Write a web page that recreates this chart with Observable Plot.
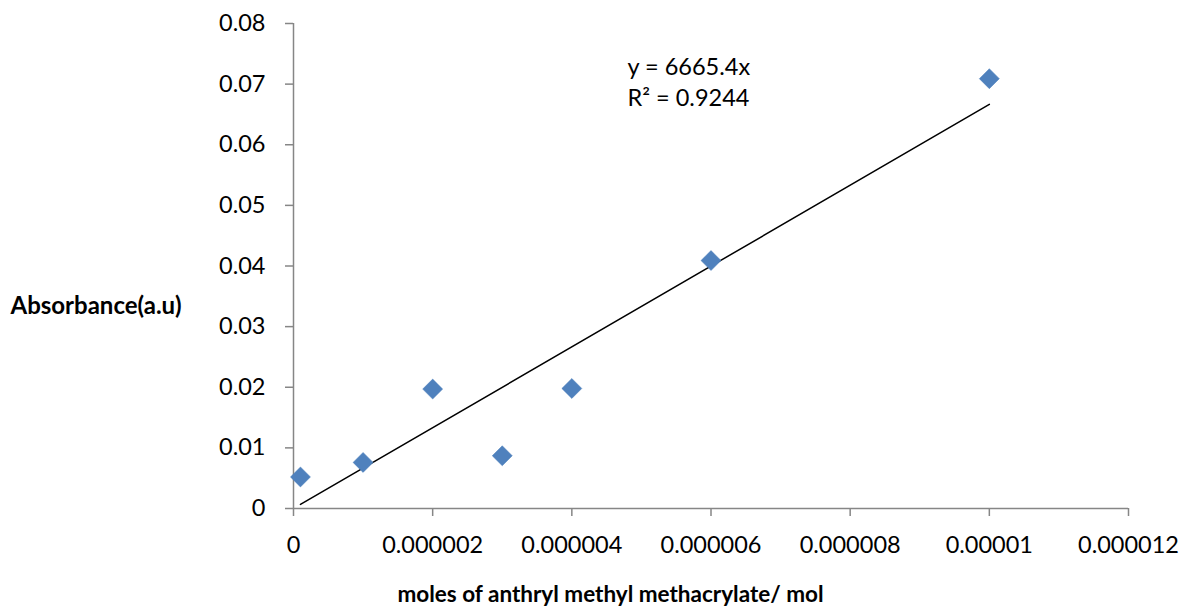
<!DOCTYPE html>
<html><head><meta charset="utf-8">
<script src="https://cdn.jsdelivr.net/npm/d3@7"></script>
<script src="https://cdn.jsdelivr.net/npm/@observablehq/plot@0.6"></script>
<style>body{margin:0;background:#fff}</style>
</head><body><div id="chart"></div>
<script>
const moles = [1e-7, 1e-6, 2e-6, 3e-6, 4e-6, 6e-6, 1e-5];
const absorbance = [0.0052, 0.0076, 0.0197, 0.0087, 0.0198, 0.0409, 0.0709];
const slope = 6665.4;
const xTicks = [0, 0.000002, 0.000004, 0.000006, 0.000008, 0.00001, 0.000012];
const xTickLabels = ["0", "0.000002", "0.000004", "0.000006", "0.000008", "0.00001", "0.000012"];
const yTicks = [0, 0.01, 0.02, 0.03, 0.04, 0.05, 0.06, 0.07, 0.08];
const yTickLabels = ["0", "0.01", "0.02", "0.03", "0.04", "0.05", "0.06", "0.07", "0.08"];
const equation = ["y = 6665.4x", "R² = 0.9244"];
const xLabel = "moles of anthryl methyl methacrylate/ mol";
const yLabel = "Absorbance(a.u)";

const points = moles.map((m, i) => ({x: m, y: absorbance[i]}));
const trend = [moles[0], moles[moles.length - 1]].map(x => ({x, y: slope * x}));
const font = "Lato, 'Open Sans', sans-serif";
const axisColor = "#868686";

const chart = Plot.plot({
  width: 1181, height: 615,
  marginLeft: 293, marginRight: 53, marginTop: 23, marginBottom: 107,
  style: {fontFamily: font, background: "#fff"},
  x: {domain: [0, 0.000012]},
  y: {domain: [0, 0.08]},
  marks: [
    Plot.ruleY([0], {stroke: axisColor, strokeWidth: 1.5}),
    Plot.ruleX([0], {stroke: axisColor, strokeWidth: 1.5}),
    Plot.axisX({ticks: xTicks, tickFormat: (d, i) => xTickLabels[i], tickSize: 8, tickPadding: 20,
      stroke: axisColor, strokeWidth: 1.5, color: "#000", fontSize: 23.5, label: null}),
    Plot.axisY({ticks: yTicks, tickFormat: (d, i) => yTickLabels[i], tickSize: 8, tickPadding: 20,
      stroke: axisColor, strokeWidth: 1.5, color: "#000", fontSize: 23.5, label: null}),
    Plot.line(trend, {x: "x", y: "y", stroke: "#000", strokeWidth: 1.5}),
    Plot.dot(points, {x: "x", y: "y", symbol: "diamond2", r: 9, fill: "#4F81BD", stroke: "#4A7EBB", strokeWidth: 0.5}),
    Plot.text([equation[0]], {x: 4.8e-6, y: 0.0728, text: d => d, textAnchor: "start", fontSize: 23.5, fill: "#000"}),
    Plot.text([equation[1]], {x: 4.8e-6, y: 0.0677, text: d => d, textAnchor: "start", fontSize: 23.5, fill: "#000"}),
    Plot.text([xLabel], {frameAnchor: "bottom-left", text: d => d, dx: 317, dy: 93, textAnchor: "middle", fontSize: 22.5, fontWeight: "bold", fill: "#000"}),
    Plot.text([yLabel], {frameAnchor: "left", text: d => d, dx: -283, dy: 40, textAnchor: "start", fontSize: 24, fontWeight: "bold", fill: "#000"})
  ]
});
document.getElementById("chart").append(chart);
</script></body></html>
